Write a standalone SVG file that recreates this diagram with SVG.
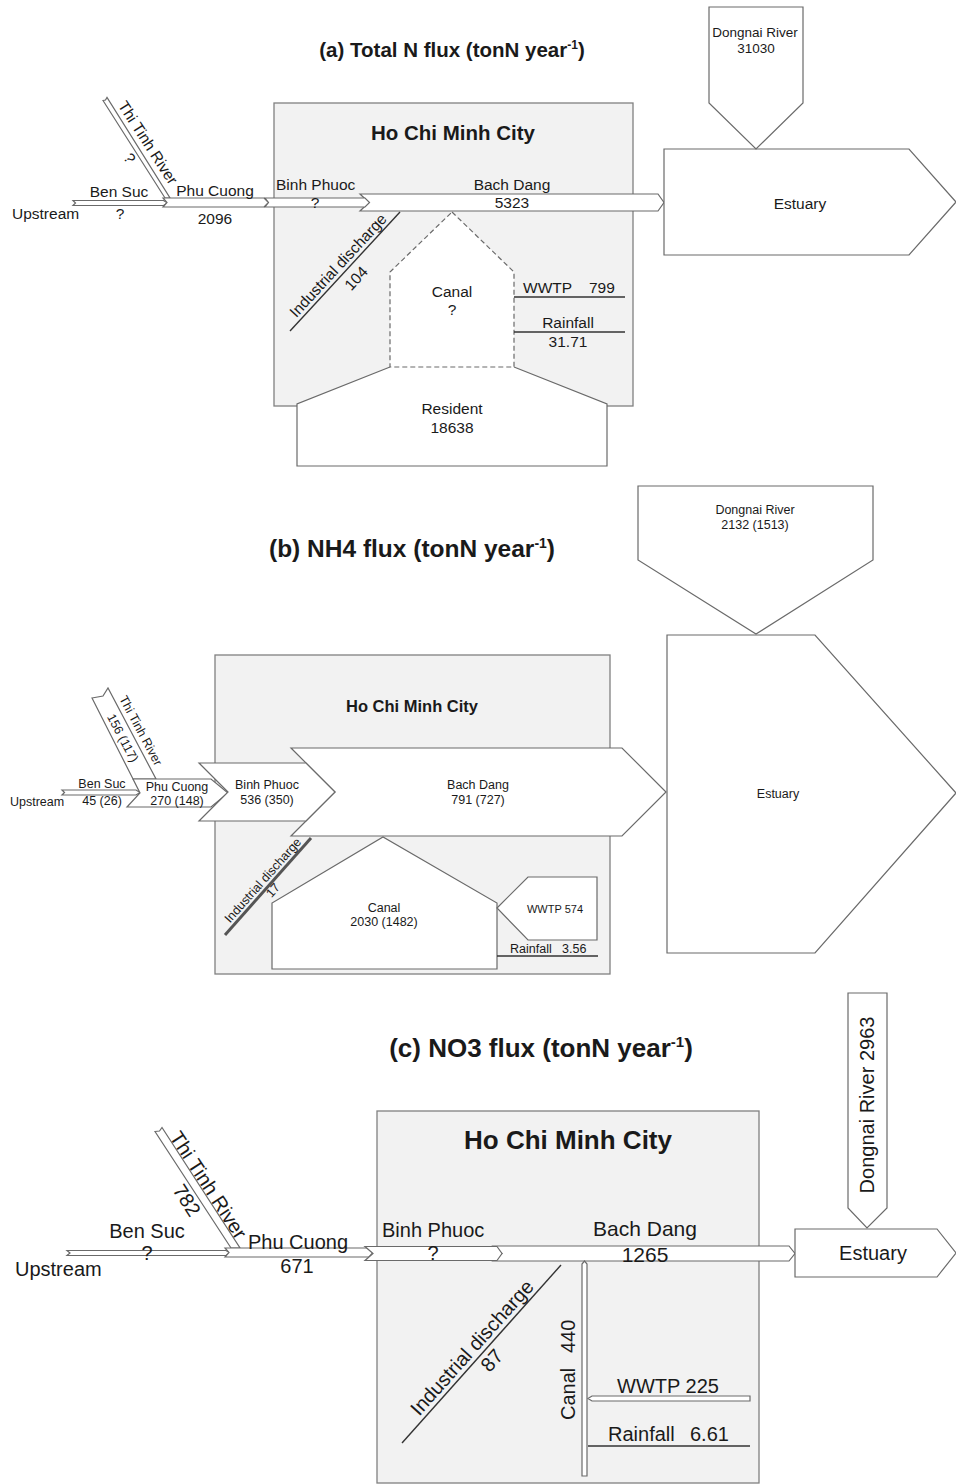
<svg xmlns="http://www.w3.org/2000/svg" width="956" height="1484" viewBox="0 0 956 1484">
<style>
.bg{fill:#fff}
.box{fill:#f2f2f2;stroke:#808080;stroke-width:1.3}
.shp{fill:#fff;stroke:#6a6a6a;stroke-width:1.2}
.dash{fill:#fff;stroke:#6a6a6a;stroke-width:1.2;stroke-dasharray:5 3}
.ln{fill:none;stroke:#333;stroke-width:1.4}
.thick{fill:none;stroke:#555;stroke-width:3}
text{font-family:"Liberation Sans",Arial,sans-serif;fill:#1a1a1a}
.b{font-weight:bold}
.fa{font-size:15.5px}
.fb{font-size:12.5px}
.fc{font-size:20px}
.m{text-anchor:middle}
</style>
<rect class="bg" x="0" y="0" width="956" height="1484"/>

<!-- ===================== Panel (a) ===================== -->
<g id="panel-a">
<text class="b m" x="452" y="57" font-size="20.5">(a) Total N flux (tonN year<tspan font-size="12" dy="-8">-1</tspan><tspan dy="8">)</tspan></text>
<g id="a-hcmc">
<rect class="box" x="274" y="103" width="359" height="303"/>
<text class="b m" x="453" y="140" font-size="20.5">Ho Chi Minh City</text>
</g>
<g id="a-resident">
<path class="shp" d="M390,367 L297,404 L297,466 L607,466 L607,404 L514,367"/>
<text class="fa m" x="452" y="414">Resident</text>
<text class="fa m" x="452" y="433">18638</text>
</g>
<g id="a-canal">
<polygon class="dash" points="452,212 514,272 514,367 390,367 390,272"/>
<text class="fa m" x="452" y="297">Canal</text>
<text class="fa m" x="452" y="315">?</text>
</g>
<g id="a-upstream">
<polygon class="shp" points="73,200.5 163.5,200.5 167.5,203 163.5,205.5 73,205.5 75.5,203"/>
<text class="fa" x="12" y="219">Upstream</text>
<text class="fa m" x="119" y="197">Ben Suc</text>
<text class="fa m" x="120" y="219">?</text>
</g>
<g id="a-thitinh">
<polygon class="shp" points="103,100.5 105.5,100 107,97.5 170,198 165,198"/>
<text class="fa" transform="translate(117.5,105.5) rotate(57)">Thi Tinh River</text>
<text class="fa m" transform="translate(125,161) rotate(57)">?</text>
</g>
<g id="a-phucuong">
<polygon class="shp" points="163,198 264,198 268.5,202.5 264,207 163,207 167,202.5"/>
<text class="fa m" x="215" y="196">Phu Cuong</text>
<text class="fa m" x="215" y="224">2096</text>
</g>
<g id="a-bachdang">
<polygon class="shp" points="360,194 658,194 664,202.5 658,211 360,211 369,202.5"/>
<text class="fa m" x="512" y="190">Bach Dang</text>
<text class="fa m" x="512" y="208">5323</text>
</g>
<g id="a-binhphuoc">
<polygon class="shp" points="265,198 365,198 369.5,202.5 365,207 265,207 268.5,202.5"/>
<text class="fa" x="276" y="190">Binh Phuoc</text>
<text class="fa m" x="315" y="208">?</text>
</g>
<g id="a-estuary">
<polygon class="shp" points="664,149 909,149 956,202 909,255 664,255"/>
<text class="fa m" x="800" y="209">Estuary</text>
</g>
<g id="a-dongnai">
<polygon class="shp" points="709,7 803,7 803,103 756,149 709,103"/>
<text class="m" x="755" y="37" font-size="13.5">Dongnai River</text>
<text class="m" x="756" y="53" font-size="13.5">31030</text>
</g>
<g id="a-connectors">
<line class="ln" x1="290" y1="331" x2="400" y2="212"/>
<text class="fa m" transform="translate(342,269) rotate(-47.2)">Industrial discharge</text>
<text class="fa m" transform="translate(360,282) rotate(-47.2)">104</text>
<line class="ln" x1="514" y1="297" x2="625" y2="297"/>
<text class="fa"><tspan x="523" y="293">WWTP</tspan><tspan x="589" y="293">799</tspan></text>
<line class="ln" x1="514" y1="332" x2="625" y2="332"/>
<text class="fa m" x="568" y="328">Rainfall</text>
<text class="fa m" x="568" y="347">31.71</text>
</g>
</g>

<!-- ===================== Panel (b) ===================== -->
<g id="panel-b">
<text class="b m" x="412" y="557" font-size="24.5">(b) NH4 flux (tonN year<tspan font-size="14" dy="-9">-1</tspan><tspan dy="9">)</tspan></text>
<g id="b-hcmc">
<rect class="box" x="215" y="655" width="395" height="319"/>
<text class="b m" x="412" y="712" font-size="16.5">Ho Chi Minh City</text>
</g>
<g id="b-upstream">
<polygon class="shp" points="62,790 136,790 140,792.5 136,795 62,795 64.5,792.5"/>
<text class="fb" x="10" y="806">Upstream</text>
<text class="fb m" x="102" y="788">Ben Suc</text>
<text class="fb m" x="102" y="805">45 (26)</text>
</g>
<g id="b-thitinh">
<polygon class="shp" points="92,698 103,696 108,688 156,779 133,779"/>
<text class="fb" transform="translate(119,698.5) rotate(62)">Thi Tinh River</text>
<text class="fb m" transform="translate(119,740) rotate(62)">156 (117)</text>
</g>
<g id="b-phucuong">
<polygon class="shp" points="133,779 211,779 228,793 211,807 127,807 140,793"/>
<text class="fb m" x="177" y="791">Phu Cuong</text>
<text class="fb m" x="177" y="805">270 (148)</text>
</g>
<g id="b-bachdang">
<polygon class="shp" points="291,748 622,748 666,792 622,836 291,836 335,792"/>
<text class="fb m" x="478" y="789">Bach Dang</text>
<text class="fb m" x="478" y="804">791 (727)</text>
</g>
<g id="b-binhphuoc">
<polygon class="shp" points="199,763 306,763 335,792 306,821 199,821 228,792"/>
<text class="fb m" x="267" y="789">Binh Phuoc</text>
<text class="fb m" x="267" y="804">536 (350)</text>
</g>
<g id="b-canal">
<polygon class="shp" points="272,969 272,903 383,837 497,903 497,969"/>
<text class="fb m" x="384" y="912">Canal</text>
<text class="fb m" x="384" y="926">2030 (1482)</text>
</g>
<g id="b-wwtp">
<polygon class="shp" points="497,908 528,877 597,877 597,940 528,940"/>
<text class="m" x="555" y="913" font-size="11">WWTP 574</text>
</g>
<g id="b-estuary">
<polygon class="shp" points="667,635 815,635 956,793 815,953 667,953"/>
<text class="fb m" x="778" y="798">Estuary</text>
</g>
<g id="b-dongnai">
<polygon class="shp" points="638,486 873,486 873,560 756,634 638,560"/>
<text class="fb m" x="755" y="514">Dongnai River</text>
<text class="fb m" x="755" y="529">2132 (1513)</text>
</g>
<g id="b-connectors">
<line class="thick" x1="225" y1="935" x2="311" y2="838"/>
<text class="fb m" transform="translate(266,883) rotate(-48.4)">Industrial discharge</text>
<text class="fb m" transform="translate(276,893) rotate(-48.4)">17</text>
<line class="ln" x1="497" y1="956" x2="598" y2="956"/>
<text class="fb"><tspan x="510" y="953">Rainfall</tspan><tspan x="562" y="953">3.56</tspan></text>
</g>
</g>

<!-- ===================== Panel (c) ===================== -->
<g id="panel-c">
<text class="b m" x="541" y="1057" font-size="26">(c) NO3 flux (tonN year<tspan font-size="15" dy="-10">-1</tspan><tspan dy="10">)</tspan></text>
<g id="c-hcmc">
<rect class="box" x="377" y="1111" width="382" height="372"/>
<text class="b m" x="568" y="1149" font-size="26">Ho Chi Minh City</text>
</g>
<g id="c-upstream">
<polygon class="shp" points="67,1250.5 226,1250.5 230,1253 226,1255.5 67,1255.5 70,1253"/>
<text class="fc" x="15" y="1276">Upstream</text>
<text class="fc m" x="147" y="1238">Ben Suc</text>
<text class="fc m" x="147" y="1260">?</text>
</g>
<g id="c-thitinh">
<polygon class="shp" points="155,1131.5 159.5,1131 162,1127.5 240,1248 231,1248"/>
<text class="fc" transform="translate(169,1137) rotate(57)">Thi Tinh River</text>
<text class="fc m" transform="translate(181,1204) rotate(57)">782</text>
</g>
<g id="c-phucuong">
<polygon class="shp" points="225,1248 369,1248 373,1252.5 369,1257 225,1257 229,1252.5"/>
<text class="fc m" x="298" y="1249">Phu Cuong</text>
<text class="fc m" x="297" y="1273">671</text>
</g>
<g id="c-bachdang">
<polygon class="shp" points="493,1246 789,1246 795,1253.5 789,1261 493,1261 502,1253.5"/>
<text class="m" x="645" y="1236" font-size="21">Bach Dang</text>
<text class="m" x="645" y="1262" font-size="21">1265</text>
</g>
<g id="c-binhphuoc">
<polygon class="shp" points="365,1246.5 497,1246.5 502,1253.5 497,1260.5 365,1260.5 373,1253.5"/>
<text class="fc" x="382" y="1237">Binh Phuoc</text>
<text class="fc m" x="433" y="1260">?</text>
</g>
<g id="c-canal">
<polygon class="shp" points="582,1476 582,1264 584.5,1261 587,1264 587,1476"/>
<text class="fc" transform="translate(575,1420) rotate(-90)"><tspan x="0" y="0">Canal</tspan><tspan x="67" y="0">440</tspan></text>
</g>
<g id="c-estuary">
<polygon class="shp" points="795,1229 937,1229 956,1253 937,1277 795,1277"/>
<text class="fc m" x="873" y="1260">Estuary</text>
</g>
<g id="c-dongnai">
<polygon class="shp" points="848,993 887,993 887,1208 867,1228 848,1208"/>
<text class="fc m" transform="translate(874,1105) rotate(-90)">Dongnai River 2963</text>
</g>
<g id="c-connectors">
<line class="ln" x1="402" y1="1443" x2="561" y2="1265"/>
<text class="fc m" transform="translate(477,1352) rotate(-48.2)">Industrial discharge</text>
<text class="fc m" transform="translate(497,1365) rotate(-48.2)">87</text>
<polygon class="shp" points="750,1396 592,1396 588,1398.5 592,1401 750,1401"/>
<text class="fc m" x="668" y="1393">WWTP 225</text>
<line class="ln" x1="588" y1="1446" x2="750" y2="1446"/>
<text class="fc"><tspan x="608" y="1441">Rainfall</tspan><tspan x="690" y="1441">6.61</tspan></text>
</g>
</g>
</svg>
